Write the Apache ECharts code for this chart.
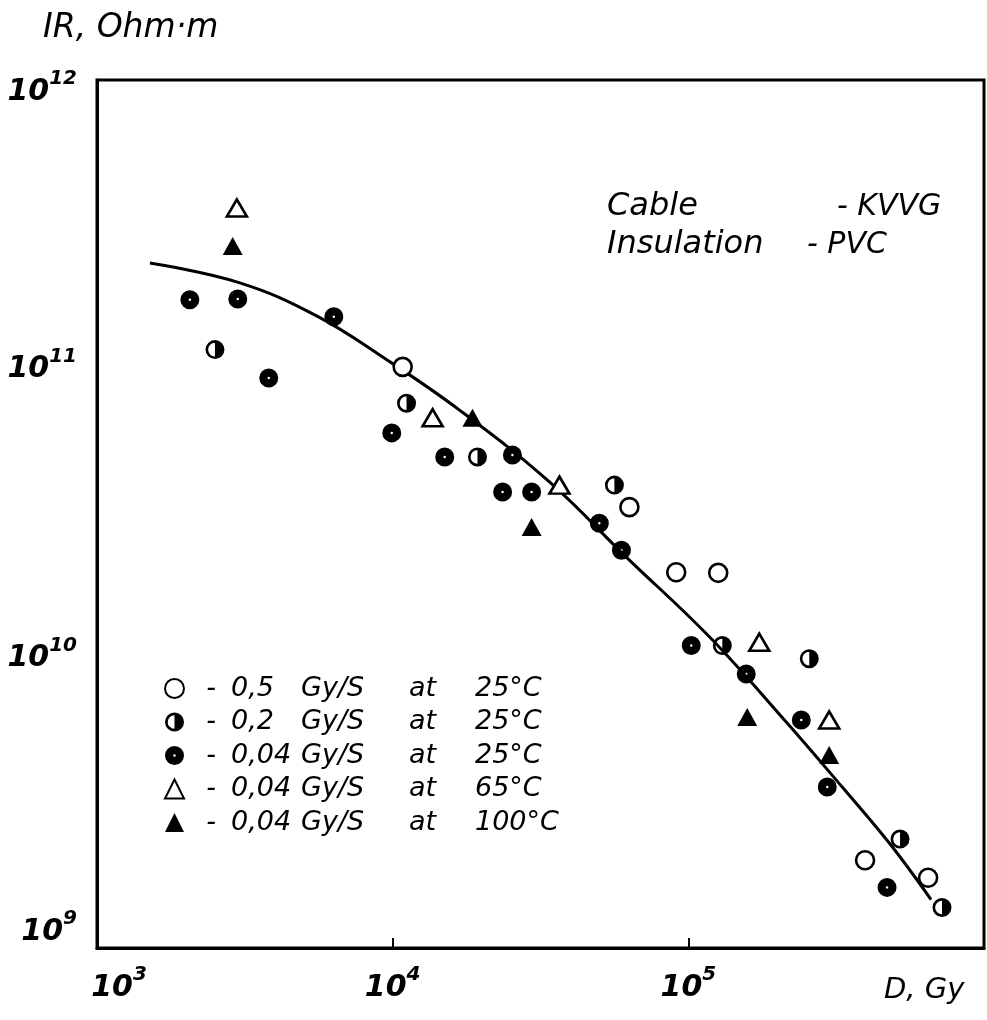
<!DOCTYPE html>
<html lang="en">
<head>
<meta charset="UTF-8">
<title>IR vs dose - KVVG cable</title>
<script src="https://cdn.jsdelivr.net/npm/echarts@6/dist/echarts.min.js"></script>
<style>
  html, body { margin: 0; padding: 0; background: #fff; }
  #chart { width: 987px; height: 1020px; }
</style>
</head>
<body>
<div id="chart"></div>
<script>
  // fitted curve
  var curveDose = [1510, 3041, 5530, 9545, 16830, 33900, 61800, 117800, 214300, 331500, 477500, 662000];
  var curveIR = [2.33e11, 1.99e11, 1.53e11, 1.08e11, 7.23e10, 4.08e10, 2.24e10, 1.19e10, 6.04e9, 3.60e9, 2.31e9, 1.47e9];

  // 0.5 Gy/s at 25 C (open circles)
  var d05 = [10810, 63200, 91000, 126200, 396000, 647000];
  var ir05 = [1.02e11, 3.34e10, 1.99e10, 1.98e10, 2.01e9, 1.75e9];

  // 0.2 Gy/s at 25 C (half circles)
  var d02 = [2506, 11140, 19360, 56230, 130300, 256500, 520000, 721000];
  var ir02 = [1.17e11, 7.64e10, 4.98e10, 3.98e10, 1.11e10, 1.00e10, 2.38e9, 1.38e9];

  // 0.04 Gy/s at 25 C (filled circles)
  var d004 = [2061, 2993, 3810, 6324, 9930, 15000, 25410, 23540, 29510, 50000, 59400, 102300, 157000, 241000, 295000, 470000];
  var ir004 = [1.74e11, 1.75e11, 9.33e10, 1.52e11, 6.03e10, 4.98e10, 5.06e10, 3.77e10, 3.77e10, 2.94e10, 2.37e10, 1.11e10, 8.85e9, 6.14e9, 3.60e9, 1.62e9];

  // 0.04 Gy/s at 65 C (open triangles)
  var d65 = [2972, 13650, 36650, 173800, 299500];
  var ir65 = [3.61e11, 6.80e10, 3.98e10, 1.14e10, 6.14e9];

  // 0.04 Gy/s at 100 C (filled triangles)
  var d100 = [2877, 18620, 29510, 158200, 299500];
  var ir100 = [2.67e11, 6.80e10, 2.85e10, 6.28e9, 4.65e9];

  var rates = ['0,5', '0,2', '0,04', '0,04', '0,04'];
  var temps = ['25°C', '25°C', '25°C', '65°C', '100°C'];

  var FONT = '"DejaVu Sans", sans-serif';

  function pairs(xs, ys) {
    return xs.map(function (x, i) { return [x, ys[i]]; });
  }

  var names = rates.map(function (r, i) { return r + ' Gy/S at ' + temps[i]; });

  var halfCircle = 'path://M0,-10A10,10,0,1,1,0,10A10,10,0,1,1,0,-10L0,-7.2A7.2,7.2,0,0,0,0,7.2L0,-7.2Z';
  var dotCircle = 'path://M0,-10A10,10,0,1,1,0,10A10,10,0,1,1,0,-10ZM0,-1.3A1.3,1.3,0,1,0,0,1.3A1.3,1.3,0,1,0,0,-1.3Z';

  var openStyle = { color: '#fff', borderColor: '#000', borderWidth: 2.6, opacity: 1 };
  var solidStyle = { color: '#000', borderWidth: 0, opacity: 1 };

  var numFont = { fontFamily: FONT, fontStyle: 'italic', fontWeight: 'bold', color: '#000' };
  var expLabel = {
    b: Object.assign({ fontSize: 30, lineHeight: 46 }, numFont),
    bl: Object.assign({ fontSize: 30, lineHeight: 46, padding: [0, 0, 0, 44] }, numFont),
    s: Object.assign({ fontSize: 20, lineHeight: 14, verticalAlign: 'top' }, numFont),
    g1: { fontSize: 10, lineHeight: 24 },
    g2: { fontSize: 10, lineHeight: 32 }
  };

  // all cells left aligned so the columns line up
  var legendCell = { fontFamily: FONT, fontStyle: 'italic', fontSize: 27, lineHeight: 28, color: '#000' };

  var chart = echarts.init(document.getElementById('chart'));

  chart.setOption({
    animation: false,
    backgroundColor: '#fff',
    grid: {
      left: 97, right: 3, top: 80, bottom: 72,
      show: true, borderColor: '#000', borderWidth: 3
    },
    xAxis: {
      type: 'log',
      logBase: 10,
      min: 1e3,
      max: 1e6,
      axisLine: { show: true, lineStyle: { color: '#000', width: 3 } },
      axisTick: { show: true, inside: true, length: 10, lineStyle: { color: '#000', width: 2 } },
      minorTick: { show: false },
      splitLine: { show: false },
      axisLabel: {
        margin: 17,
        formatter: function (v) {
          var e = Math.round(Math.log10(v));
          if (e > 5) return '';
          return (e === 3 ? '{bl|10}' : '{b|10}') + '{s|' + e + '}';
        },
        rich: expLabel
      }
    },
    yAxis: {
      type: 'log',
      logBase: 10,
      min: 1e9,
      max: 1e12,
      axisLine: { show: true, lineStyle: { color: '#000', width: 3 } },
      axisTick: { show: false },
      minorTick: { show: false },
      splitLine: { show: false },
      axisLabel: {
        margin: 20,
        formatter: function (v) {
          var e = Math.round(Math.log10(v));
          var s = '{b|10}{s|' + e + '}';
          if (e === 12) return '{g1| }\n' + s;
          if (e === 9) return s + '\n{g2| }';
          return s;
        },
        rich: expLabel
      }
    },
    legend: {
      data: names,
      orient: 'vertical',
      left: 159,
      top: 670,
      itemWidth: 19,
      itemHeight: 19,
      itemGap: 6.5,
      selectedMode: false,
      formatter: function (name) {
        var i = names.indexOf(name);
        return '{d|  -}{v|' + rates[i] + '}{g|Gy/S}{a|at}{t|' + temps[i] + '}';
      },
      textStyle: {
        rich: {
          d: Object.assign({}, legendCell, { width: 42 }),
          v: Object.assign({}, legendCell, { width: 70 }),
          g: Object.assign({}, legendCell, { width: 108 }),
          a: Object.assign({}, legendCell, { width: 66 }),
          t: legendCell
        }
      }
    },
    graphic: [
      { type: 'text', x: 43, y: 28, style: { text: 'IR, Ohm·m', font: 'italic 33px ' + FONT, fill: '#000', verticalAlign: 'middle' } },
      { type: 'text', x: 884, y: 990, style: { text: 'D, Gy', font: 'italic 29px ' + FONT, fill: '#000', verticalAlign: 'middle' } },
      { type: 'text', x: 607, y: 207, style: { text: 'Cable', font: 'italic 32px ' + FONT, fill: '#000', verticalAlign: 'middle' } },
      { type: 'text', x: 837, y: 207, style: { text: '- KVVG', font: 'italic 30px ' + FONT, fill: '#000', verticalAlign: 'middle' } },
      { type: 'text', x: 607, y: 245, style: { text: 'Insulation', font: 'italic 32px ' + FONT, fill: '#000', verticalAlign: 'middle' } },
      { type: 'text', x: 807, y: 245, style: { text: '- PVC', font: 'italic 30px ' + FONT, fill: '#000', verticalAlign: 'middle' } }
    ],
    series: [
      {
        type: 'line',
        data: pairs(curveDose, curveIR),
        smooth: 0.4,
        symbol: 'none',
        z: 1,
        lineStyle: { color: '#000', width: 3 }
      },
      {
        name: names[0], type: 'scatter', z: 3,
        symbol: 'circle', symbolSize: 18,
        itemStyle: openStyle,
        data: pairs(d05, ir05)
      },
      {
        name: names[1], type: 'scatter', z: 3,
        symbol: halfCircle, symbolSize: 19,
        itemStyle: solidStyle,
        data: pairs(d02, ir02)
      },
      {
        name: names[2], type: 'scatter', z: 3,
        symbol: dotCircle, symbolSize: 19,
        itemStyle: solidStyle,
        data: pairs(d004, ir004)
      },
      {
        name: names[3], type: 'scatter', z: 3,
        symbol: 'triangle', symbolSize: [20, 17],
        itemStyle: openStyle,
        data: pairs(d65, ir65)
      },
      {
        name: names[4], type: 'scatter', z: 3,
        symbol: 'triangle', symbolSize: [20, 18],
        itemStyle: solidStyle,
        data: pairs(d100, ir100)
      }
    ]
  });
</script>
</body>
</html>
